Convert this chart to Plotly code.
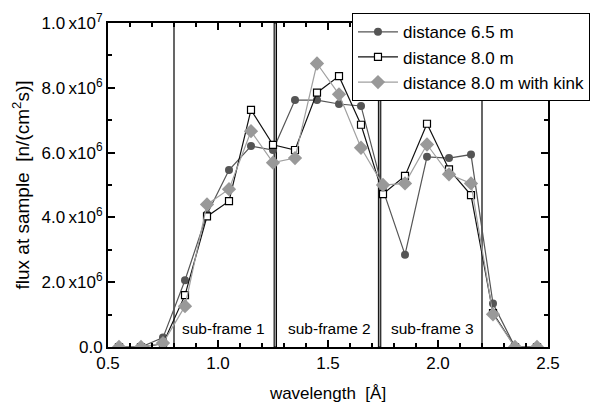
import plotly.graph_objects as go

wavelength = [0.55, 0.65, 0.75, 0.85, 0.95, 1.05, 1.15, 1.25, 1.35, 1.45,
              1.55, 1.65, 1.75, 1.85, 1.95, 2.05, 2.15, 2.25, 2.35, 2.45]
flux_65 = [0, 0, 0.29e6, 2.06e6, 4.1e6, 5.46e6, 6.2e6, 6.08e6, 7.62e6, 7.62e6,
           7.5e6, 7.44e6, 4.85e6, 2.85e6, 5.87e6, 5.83e6, 5.94e6, 1.34e6, 0, 0]
flux_80 = [0, 0, 0.1e6, 1.6e6, 4.03e6, 4.5e6, 7.32e6, 6.24e6, 6.08e6, 7.85e6,
           8.36e6, 6.86e6, 4.72e6, 5.28e6, 6.89e6, 5.48e6, 4.69e6, 1.05e6, 0, 0]
flux_kink = [0, 0, 0.12e6, 1.26e6, 4.4e6, 4.87e6, 6.66e6, 5.69e6, 5.83e6, 8.75e6,
             7.8e6, 6.15e6, 5.0e6, 5.05e6, 6.25e6, 5.33e6, 5.05e6, 1.01e6, 0, 0]
series_names = ["distance 6.5 m", "distance 8.0 m", "distance 8.0 m with kink"]

single_lines = [0.8, 2.2]
double_lines = [(1.255, 1.266), (1.729, 1.740)]
frame_labels = ["sub-frame 1", "sub-frame 2", "sub-frame 3"]
frame_label_x = [1.027, 1.509, 1.977]
frame_label_y = 0.58e6

y_tickvals = [0, 2e6, 4e6, 6e6, 8e6, 1e7]
y_ticktext = ["0.0", "2.0\u2009x10<sup>6</sup>", "4.0\u2009x10<sup>6</sup>",
              "6.0\u2009x10<sup>6</sup>", "8.0\u2009x10<sup>6</sup>", "1.0\u2009x10<sup>7</sup>"]
x_tickvals = [0.5, 1.0, 1.5, 2.0, 2.5]
x_ticktext = ["0.5", "1.0", "1.5", "2.0", "2.5"]

FONT = "Liberation Sans, Arial, sans-serif"

fig = go.Figure()
fig.add_trace(go.Scatter(
    x=wavelength, y=flux_65, name=series_names[0], mode="lines+markers",
    line=dict(color="#555555", width=1.2),
    marker=dict(symbol="circle", size=8, color="#555555")))
fig.add_trace(go.Scatter(
    x=wavelength, y=flux_80, name=series_names[1], mode="lines+markers",
    line=dict(color="#111111", width=1.2),
    marker=dict(symbol="square", size=7, color="white", line=dict(color="black", width=1.2))))
fig.add_trace(go.Scatter(
    x=wavelength, y=flux_kink, name=series_names[2], mode="lines+markers",
    line=dict(color="#a0a0a0", width=1.2),
    marker=dict(symbol="diamond", size=11, color="#999999")))

for xv in single_lines:
    fig.add_shape(type="line", xref="x", yref="paper", x0=xv, x1=xv, y0=0, y1=1,
                  line=dict(color="black", width=1.2), layer="below")
for x0, x1 in double_lines:
    fig.add_shape(type="rect", xref="x", yref="paper", x0=x0, x1=x1, y0=0, y1=1,
                  fillcolor="#999999", line=dict(color="black", width=1), layer="below")

for lbl, xv in zip(frame_labels, frame_label_x):
    fig.add_annotation(x=xv, y=frame_label_y, text=lbl, showarrow=False,
                       font=dict(family=FONT, size=15.5, color="black"))

axis_common = dict(showline=True, linecolor="black", linewidth=2, mirror="allticks",
                   ticks="inside", ticklen=7, tickwidth=2, tickcolor="black",
                   showgrid=False, zeroline=False,
                   tickfont=dict(family=FONT, size=17, color="black"))

fig.update_xaxes(range=[0.5, 2.5], tickvals=x_tickvals, ticktext=x_ticktext,
                 minor=dict(dtick=0.1, ticks="inside", ticklen=4, tickwidth=1.5, tickcolor="black"),
                 title=dict(text="wavelength  [Å]", font=dict(family=FONT, size=17, color="black"), standoff=16),
                 **axis_common)
fig.update_yaxes(range=[0, 1e7], tickvals=y_tickvals, ticktext=y_ticktext,
                 minor=dict(tickvals=[1e6, 3e6, 5e6, 7e6, 9e6], ticks="inside", ticklen=4,
                            tickwidth=1.5, tickcolor="black"),
                 title=dict(text="flux at sample  [n/(cm<sup>2</sup>s)]",
                            font=dict(family=FONT, size=19, color="black"), standoff=7),
                 **axis_common)

fig.update_layout(
    width=605, height=403,
    margin=dict(l=108, r=57, t=23, b=56, autoexpand=False),
    paper_bgcolor="white", plot_bgcolor="white",
    font=dict(family=FONT, color="black"),
    showlegend=True,
    legend=dict(x=0.5545, y=1.03, xanchor="left", yanchor="top",
                bgcolor="white", bordercolor="black", borderwidth=1,
                font=dict(family=FONT, size=17, color="black"),
                tracegroupgap=0, itemwidth=40),
)

fig.write_html("out.html")
